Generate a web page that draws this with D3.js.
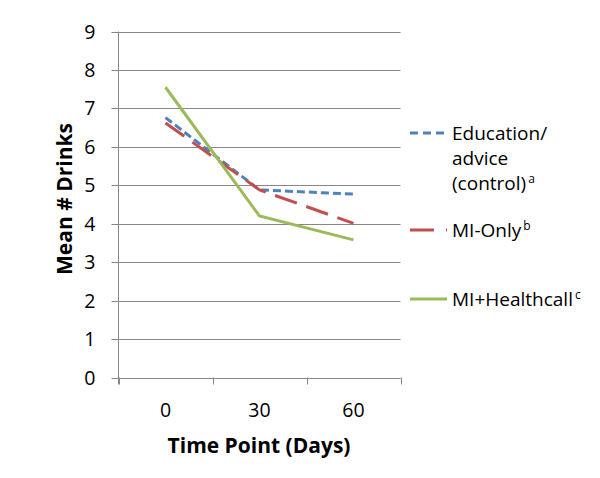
<!DOCTYPE html>
<html><head><meta charset="utf-8">
<script src="https://cdn.jsdelivr.net/npm/d3@7"></script>
<style>body{margin:0;background:#fff}svg{display:block}text{font-family:"Open Sans",sans-serif;fill:#000}</style>
</head><body>
<script>
const categories = ["0","30","60"];
const yTicks = [0,1,2,3,4,5,6,7,8,9];
const educationValues = [6.76, 4.88, 4.77];
const miOnlyValues = [6.62, 4.88, 4.01];
const miHealthcallValues = [7.55, 4.20, 3.58];
const seriesNames = ["Education/", "MI-Only", "MI+Healthcall"];

const W=600,H=478;
const svg=d3.select("body").append("svg").attr("width",W).attr("height",H);
const pLeft=118.5,pRight=400.5,pTop=31.5,pBottom=377.5;
const x=d3.scaleBand().domain(categories).range([pLeft,pRight]).padding(0);
const y=d3.scaleLinear().domain([0,9]).range([pBottom,pTop]);
const fs=19.5;

// gridlines
svg.append("g").selectAll("line").data(yTicks).join("line")
  .attr("x1",pLeft-7).attr("x2",pRight).attr("y1",d=>Math.round(y(d))+0.5).attr("y2",d=>Math.round(y(d))+0.5)
  .attr("stroke","#878787").attr("stroke-width",1);
// y axis line
svg.append("line").attr("x1",pLeft).attr("x2",pLeft).attr("y1",pTop).attr("y2",pBottom+7).attr("stroke","#878787");
// x ticks at band edges
const edges=categories.map(c=>x(c)).concat([x(categories[categories.length-1])+x.bandwidth()]);
svg.append("g").selectAll("line").data(edges).join("line")
  .attr("x1",d=>Math.round(d)+0.5).attr("x2",d=>Math.round(d)+0.5).attr("y1",pBottom).attr("y2",pBottom+7)
  .attr("stroke","#878787");
// y tick labels
svg.append("g").selectAll("text").data(yTicks).join("text")
  .attr("x",pLeft-23).attr("y",d=>y(d)).attr("dy","0.36em").attr("text-anchor","end")
  .style("font-size",fs+"px").text(d=>d);
// x tick labels
svg.append("g").selectAll("text").data(categories).join("text")
  .attr("x",d=>x(d)+x.bandwidth()/2).attr("y",410).attr("dy","0.36em").attr("text-anchor","middle")
  .style("font-size",fs+"px").text(d=>d);
// axis titles
svg.append("text").attr("x",259).attr("y",445).attr("dy","0.36em").attr("text-anchor","middle")
  .style("font-size","21px").style("font-weight","bold").text("Time Point (Days)");
svg.append("text").attr("transform","translate(64,199) rotate(-90)").attr("dy","0.36em").attr("text-anchor","middle")
  .style("font-size","21px").style("font-weight","bold").text("Mean # Drinks");

const series=[
  {vals:educationValues,color:"#4F81BD",dash:"8,4"},
  {vals:miOnlyValues,color:"#C0504D",dash:"23,10"},
  {vals:miHealthcallValues,color:"#9BBB59",dash:null}
];
const line=d3.line().x((d,i)=>x(categories[i])+x.bandwidth()/2).y(d=>y(d));
series.forEach(s=>{
  svg.append("path").attr("d",line(s.vals)).attr("fill","none").attr("stroke",s.color)
    .attr("stroke-width",3).attr("stroke-dasharray",s.dash);
});

// legend
const lg=svg.append("g");
const legY=[133,230,299];
series.forEach((s,i)=>{
  lg.append("line").attr("x1",410).attr("x2",447).attr("y1",legY[i]).attr("y2",legY[i])
    .attr("stroke",s.color).attr("stroke-width",3).attr("stroke-dasharray",i===0?"8,5":(i===1?"24,12":null));
});
function legText(yy,txt,sup){
  const t=lg.append("text").attr("x",452).attr("y",yy).attr("dy","0.36em").style("font-size","19px");
  t.append("tspan").text(txt);
  if(sup){t.append("tspan").attr("dy","-0.6em").attr("dx","2").style("font-size","12px").text(sup);}
}
legText(legY[0],seriesNames[0]);
legText(legY[0]+25,"advice");
legText(legY[0]+50,"(control)","a");
legText(legY[1],seriesNames[1],"b");
legText(legY[2],seriesNames[2],"c");
</script>
</body></html>
